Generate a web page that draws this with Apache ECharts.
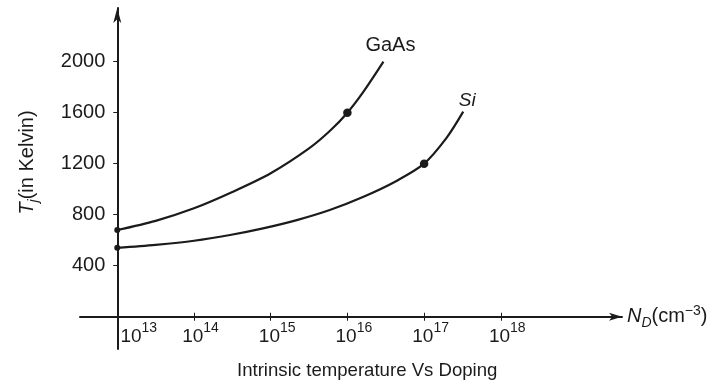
<!DOCTYPE html>
<html>
<head>
<meta charset="utf-8">
<script src="https://cdn.jsdelivr.net/npm/echarts@6/dist/echarts.min.js"></script>
<style>
html,body{margin:0;padding:0;background:#fff;}
#c{width:718px;height:385px;}
</style>
</head>
<body>
<div id="c"></div>
<script>
// Doping concentration as log10(N_D), intrinsic temperature in Kelvin
const gaasLogN = [13.0, 13.5, 14.0, 14.5, 15.0, 15.5, 15.77, 16.0, 16.21, 16.47];
const gaasT    = [680, 752, 850, 978, 1125, 1320, 1456, 1600, 1765, 2000];
const siLogN   = [13.0, 13.5, 14.0, 14.47, 14.9, 15.34, 15.77, 16.21, 16.64, 17.0, 17.29, 17.51];
const siT      = [540, 564, 596, 641, 693, 758, 837, 941, 1065, 1200, 1400, 1608];
// marked points
const gaasDotLogN = [13.0, 16.0];
const gaasDotT    = [680, 1600];
const siDotLogN   = [13.0, 17.0];
const siDotT      = [540, 1200];
// axis ticks
const xTickExp  = [13, 14, 15, 16, 17, 18];
const yTicks    = [400, 800, 1200, 1600, 2000];
const seriesNames = ['GaAs', 'Si'];

const X_MIN = 12.514, X_MAX = 19.58, Y_MIN = -253, Y_MAX = 2421;
const X_ORIGIN = 13, Y_ORIGIN = 0;
const GRID = {left: 80, right: 96, top: 8, bottom: 36};
const W = 718, H = 385;
const plotW = W - GRID.left - GRID.right, plotH = H - GRID.top - GRID.bottom;
// axes cross at (10^13, 0): shift each axis into the plot
const yAxisOffset = -(X_ORIGIN - X_MIN) / (X_MAX - X_MIN) * plotW;
const xAxisOffset = -(Y_ORIGIN - Y_MIN) / (Y_MAX - Y_MIN) * plotH;

const FONT = "'Liberation Sans', Arial, Helvetica, sans-serif";
const INK = '#1b1b1b';

function pts(xs, ys) { return xs.map((x, i) => [x, ys[i]]); }

function endLabel(name, italic, offset) {
  return {
    show: true, formatter: name, distance: 0, offset: offset,
    align: 'center', verticalAlign: 'middle',
    fontFamily: FONT, fontSize: italic ? 19 : 20,
    fontStyle: italic ? 'italic' : 'normal', color: INK
  };
}

const chart = echarts.init(document.getElementById('c'), null, {renderer: 'canvas'});
chart.setOption({
  backgroundColor: '#fff',
  animation: false,
  title: {
    text: 'Intrinsic temperature Vs Doping',
    left: 237, top: 361, padding: 0,
    textStyle: {fontFamily: FONT, fontSize: 18.6, fontWeight: 'normal', color: INK}
  },
  grid: Object.assign({containLabel: false, outerBoundsMode: 'none'}, GRID),
  xAxis: [{
    type: 'value',
    min: X_MIN, max: X_MAX,
    position: 'bottom', offset: xAxisOffset,
    axisLine: {onZero: false, symbol: ['none', 'arrow'], symbolSize: [6, 13],
      lineStyle: {color: INK, width: 2}},
    axisTick: {show: true, customValues: xTickExp.slice(1), length: 4, inside: false,
      lineStyle: {color: INK, width: 1}},
    axisLabel: {
      customValues: xTickExp,
      margin: 4,
      formatter: function (v) {
        const e = Math.round(v);
        return (e === X_ORIGIN ? '{f|10}' : '{b|10}') + '{s|' + e + '}';
      },
      rich: {
        b: {fontFamily: FONT, fontSize: 19, lineHeight: 26, verticalAlign: 'bottom', color: INK, padding: [0, 0, 0, 13]},
        f: {fontFamily: FONT, fontSize: 19, lineHeight: 26, verticalAlign: 'bottom', color: INK, padding: [0, 0, 0, 43]},
        s: {fontFamily: FONT, fontSize: 14, lineHeight: 14, verticalAlign: 'top', color: INK}
      }
    },
    splitLine: {show: false},
    name: '{i|N}{sub|D}{n|(cm}{sup|\u22123}{n|)}',
    nameLocation: 'end', nameGap: 5,
    nameTextStyle: {
      rich: {
        i: {fontFamily: FONT, fontSize: 20, fontStyle: 'italic', lineHeight: 26, verticalAlign: 'middle', color: INK},
        sub: {fontFamily: FONT, fontSize: 14, fontStyle: 'italic', lineHeight: 14, verticalAlign: 'bottom', color: INK},
        n: {fontFamily: FONT, fontSize: 20, lineHeight: 26, verticalAlign: 'middle', color: INK},
        sup: {fontFamily: FONT, fontSize: 14, lineHeight: 14, verticalAlign: 'top', color: INK}
      }
    }
  }, {
    // upper half of the crossing tick marks
    type: 'value',
    min: X_MIN, max: X_MAX,
    position: 'bottom', offset: xAxisOffset,
    axisLine: {show: false, onZero: false},
    axisTick: {show: true, customValues: xTickExp.slice(1), length: 4, inside: true,
      lineStyle: {color: INK, width: 1}},
    axisLabel: {show: false},
    splitLine: {show: false}
  }],
  yAxis: {
    type: 'value',
    min: Y_MIN, max: Y_MAX,
    position: 'left', offset: yAxisOffset,
    axisLine: {onZero: false, symbol: ['none', 'arrow'], symbolSize: [6, 15], lineStyle: {color: INK, width: 2}},
    axisTick: {show: true, customValues: yTicks, length: 4, inside: false, lineStyle: {color: INK, width: 1}},
    axisLabel: {customValues: yTicks, margin: 12, fontFamily: FONT, fontSize: 20, color: INK,
      formatter: function (v) { return String(v); }},
    splitLine: {show: false},
    name: '{i|T}{sub|j}{n|(in Kelvin)}',
    nameLocation: 'middle', nameRotate: 90, nameGap: 76,
    nameTextStyle: {
      padding: [0, 0, 0, 32],
      rich: {
        i: {fontFamily: FONT, fontSize: 20, fontStyle: 'italic', lineHeight: 24, verticalAlign: 'top', color: INK},
        sub: {fontFamily: FONT, fontSize: 14, fontStyle: 'italic', lineHeight: 14, verticalAlign: 'bottom', color: INK},
        n: {fontFamily: FONT, fontSize: 20, lineHeight: 24, verticalAlign: 'top', color: INK}
      }
    }
  },
  series: [
    {
      name: seriesNames[0], type: 'line', smooth: 0.3, symbol: 'none',
      lineStyle: {color: INK, width: 2.2},
      endLabel: endLabel(seriesNames[0], false, [7, -16]),
      data: pts(gaasLogN, gaasT),
      z: 3
    },
    {
      name: seriesNames[1], type: 'line', smooth: 0.3, symbol: 'none',
      lineStyle: {color: INK, width: 2.2},
      endLabel: endLabel(seriesNames[1], true, [4, -11]),
      data: pts(siLogN, siT),
      z: 3
    },
    {
      type: 'scatter', symbol: 'circle', itemStyle: {color: INK, opacity: 1}, z: 4,
      data: pts(gaasDotLogN, gaasDotT).concat(pts(siDotLogN, siDotT)),
      symbolSize: function (v) { return v[0] === X_ORIGIN ? 6 : 8.5; }
    }
  ]
});
</script>
</body>
</html>
